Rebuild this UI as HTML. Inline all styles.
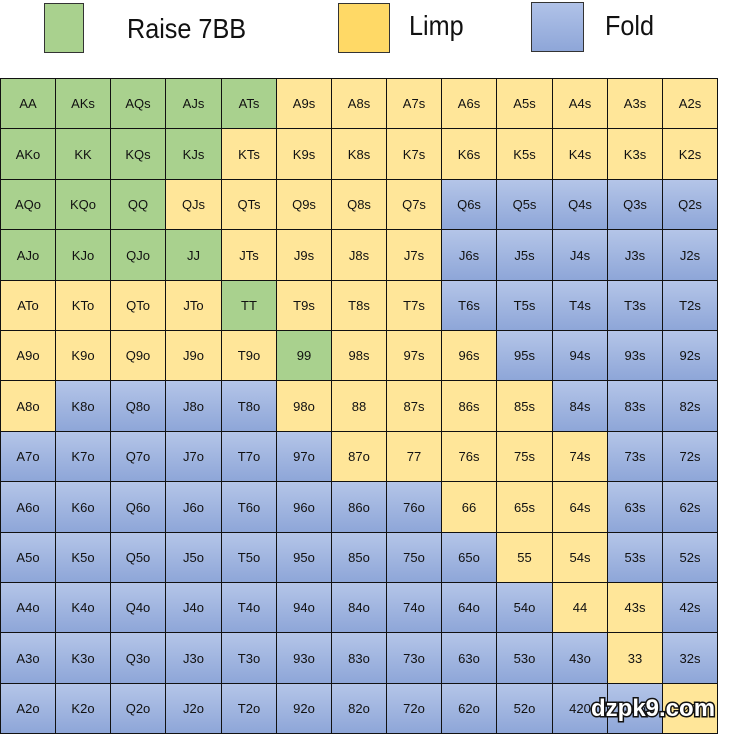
<!DOCTYPE html>
<html><head><meta charset="utf-8"><style>
body{margin:0;width:734px;height:733px;background:#fff;position:relative;overflow:hidden;font-family:"Liberation Sans",Arial,sans-serif}
.c{position:absolute;box-sizing:border-box;border:1px solid #111;display:flex;align-items:center;justify-content:center;font-size:13px;color:#111}
.G{background:#a9d18e}.Y{background:#ffe699}.B{background:linear-gradient(#b4c5e8,#8ea6d8)}
.lg{position:absolute;box-sizing:border-box;border:1.5px solid #333}
.lt{position:absolute;font-size:28px;color:#111;transform:scaleX(.9);transform-origin:left}
#wm{position:absolute;left:591px;top:695px;font-size:24px;font-weight:bold;color:#fff;-webkit-text-stroke:3px #111;paint-order:stroke fill;letter-spacing:0}
</style></head><body>
<div class="lg" style="left:44px;top:3px;width:40px;height:50px;background:#a9d18e"></div>
<div class="lt" style="left:127px;top:13px">Raise 7BB</div>
<div class="lg" style="left:338px;top:3px;width:52px;height:50px;background:#ffd966"></div>
<div class="lt" style="left:409px;top:10px">Limp</div>
<div class="lg" style="left:531px;top:2px;width:53px;height:50px;background:linear-gradient(#b0c2e8,#8ea6d8)"></div>
<div class="lt" style="left:605px;top:10px">Fold</div>
<div id="g"></div>
<div id="wm">dzpk9.com</div>
<script>
var r="AKQJT98765432".split("");
var M=["GGGGGYYYYYYYY","GGGGYYYYYYYYY","GGGYYYYYBBBBB","GGGGYYYYBBBBB","YYYYGYYYBBBBB","YYYYYGYYYBBBB","YBBBBYYYYYBBB","BBBBBBYYYYYBB","BBBBBBBBYYYBB","BBBBBBBBBYYBB","BBBBBBBBBBYYB","BBBBBBBBBBBYB","BBBBBBBBBBBBY"];
var h="";
for(var i=0;i<13;i++)for(var j=0;j<13;j++){
var t=i==j?r[i]+r[j]:(j>i?r[i]+r[j]+"s":r[j]+r[i]+"o");
if(i==10&&j==11)t="43s";if(i==12&&j==10)t="420";
var x=Math.round(j*55.15),y=Math.round(78+i*50.4),w=Math.round((j+1)*55.15)-x+1,hh=Math.round(78+(i+1)*50.4)-y+1;
h+='<div class="c '+M[i][j]+'" style="left:'+x+'px;top:'+y+'px;width:'+w+'px;height:'+hh+'px">'+t+'</div>';}
document.getElementById("g").innerHTML=h;
</script>
</body></html>
